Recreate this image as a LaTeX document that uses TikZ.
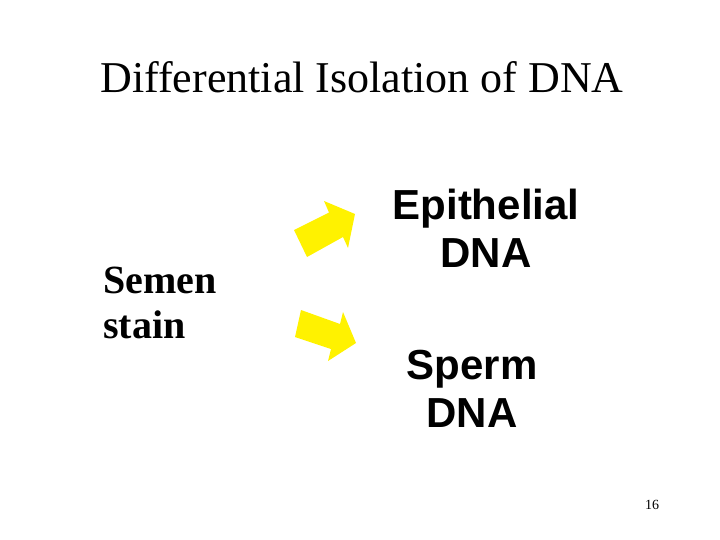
\documentclass[tikz,border=0pt]{standalone}
\usepackage{fontspec}
\setmainfont{Liberation Serif}
\newfontfamily\arial{Liberation Sans}
\begin{document}
\begin{tikzpicture}[x=1pt,y=-1pt,
  arr/.style={fill=yellow,draw=none},
  lbl/.style={font=\arial\bfseries\fontsize{42}{48}\selectfont,align=center,inner sep=0}]
\useasboundingbox (0,0) rectangle (720,540);
\node (title) at (362,77) {\fontsize{44}{50}\selectfont Differential Isolation of DNA};
\node[anchor=west,align=left,font=\bfseries\fontsize{40}{45}\selectfont,inner sep=0] (semen) at (103,303) {Semen\\stain};
\node[lbl] (epi) at (486,228) {Epithelial\\DNA};
\node[lbl] (sperm) at (472,389) {Sperm\\DNA};
\node (num) at (652,505) {\fontsize{14}{16}\selectfont 16};
\fill[arr] (294,230) -- (329,212.5) -- (324,201) -- (355,214) -- (348,248) -- (343,237) -- (307,257) -- cycle;
\fill[arr] (301,310) -- (340,324) -- (343,312) -- (356,343) -- (328,361) -- (331,349) -- (295,337) -- cycle;
\end{tikzpicture}
\end{document}
